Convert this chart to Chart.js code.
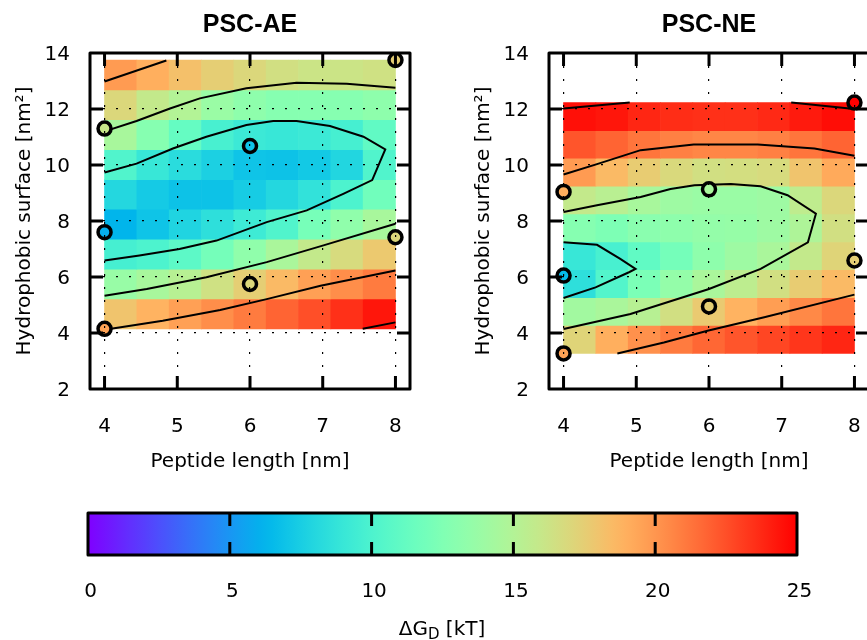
<!DOCTYPE html>
<html>
<head>
<meta charset="utf-8">
<script src="https://cdn.jsdelivr.net/npm/chart.js@4.4.0/dist/chart.umd.min.js"></script>
<style>
  html, body { margin: 0; padding: 0; background: #fff; width: 867px; height: 640px; overflow: hidden; }
  canvas { position: absolute; }
  #cbLabel { position: absolute; left: 342px; top: 616px; width: 200px; text-align: center;
             font: 20px "DejaVu Sans"; line-height: 24px; color: #000; }
  #cbLabel span { font-size: 15px; position: relative; top: 4px; }
</style>
</head>
<body>
<canvas id="ae" width="440" height="480" style="left:0;top:0"></canvas>
<canvas id="ne" width="440" height="480" style="left:459px;top:0"></canvas>
<canvas id="cb" width="867" height="160" style="left:0;top:480px"></canvas>
<div id="cbLabel">ΔG<span>D</span> [kT]</div>
<script>
// cell edges of the free-energy maps
const lengthEdges = [4, 4.444, 4.889, 5.333, 5.778, 6.222, 6.667, 7.111, 7.556, 8];
const aeSurfaceEdges = [13.75, 12.68, 11.62, 10.55, 9.48, 8.42, 7.35, 6.28, 5.22, 4.15]; // top -> bottom
const neSurfaceEdges = [12.23, 11.23, 10.24, 9.24, 8.25, 7.25, 6.26, 5.26, 4.27, 3.27];

// ΔG_D [kT] per cell, rows top -> bottom, columns 4 -> 8 nm
const aeHeat = [
  [19.8, 19.0, 18.2, 17.5, 17.0, 16.5, 16.2, 16.2, 16.4],
  [17.0, 15.8, 15.0, 13.8, 13.2, 12.8, 12.8, 12.8, 13.2],
  [14.5, 12.8, 11.2, 9.8, 9.2, 9.0, 9.2, 9.7, 11.0],
  [10.2, 9.0, 8.3, 7.6, 7.0, 6.9, 7.2, 7.9, 10.2],
  [8.0, 7.3, 6.9, 6.9, 7.4, 8.0, 8.7, 10.0, 11.8],
  [6.3, 7.0, 7.8, 8.5, 9.3, 10.2, 12.1, 13.3, 14.5],
  [9.7, 10.0, 10.8, 12.0, 13.3, 14.6, 15.8, 16.8, 17.8],
  [13.7, 14.5, 15.2, 16.4, 17.5, 18.5, 19.6, 20.3, 21.0],
  [18.0, 18.8, 19.6, 20.3, 21.0, 21.8, 22.5, 23.5, 24.3]
];
const neHeat = [
  [24.5, 24.3, 23.8, 23.6, 23.5, 23.5, 23.7, 24.2, 24.6],
  [22.3, 21.8, 21.2, 20.8, 20.6, 20.6, 20.8, 21.2, 21.8],
  [19.8, 18.5, 17.6, 16.9, 16.5, 16.6, 16.8, 18.0, 19.2],
  [15.8, 15.3, 14.5, 14.0, 13.8, 13.8, 14.0, 15.6, 17.0],
  [12.8, 12.4, 13.0, 13.2, 13.5, 13.6, 14.0, 14.8, 16.5],
  [9.0, 9.8, 11.0, 12.0, 13.2, 14.0, 14.6, 15.8, 17.2],
  [8.5, 10.3, 12.3, 13.5, 14.6, 15.5, 16.5, 17.6, 18.5],
  [14.2, 14.6, 15.2, 16.5, 17.7, 18.8, 19.7, 20.5, 21.2],
  [17.2, 19.0, 20.2, 21.0, 21.7, 22.3, 22.8, 23.3, 23.8]
];

// contour lines (peptide length, surface)
const aeContour20Top = [[4, 12.98], [4.85, 13.73]];
const aeContour15Top = [[4, 11.2], [4.44, 11.57], [4.9, 12.02], [5.31, 12.38], [5.95, 12.74], [6.64, 12.94], [7.33, 12.9], [8, 12.76]];
const aeContour10 = [[4, 9.73], [4.44, 10.05], [4.94, 10.59], [5.4, 11.01], [5.95, 11.43], [6.32, 11.57], [6.64, 11.57], [7.1, 11.39],
  [7.56, 11.01], [7.86, 10.56], [7.68, 9.46], [7.29, 8.98], [6.78, 8.38], [6.23, 7.96], [5.54, 7.3], [5.03, 7.0], [4.48, 6.77], [4, 6.59]];
const aeContour15Low = [[4, 5.33], [4.58, 5.57], [5.4, 5.99], [6.23, 6.53], [7.01, 7.13], [8, 7.9]];
const aeContour20Low = [[4, 4.12], [4.8, 4.44], [5.59, 4.82], [6.23, 5.21], [6.97, 5.69], [8, 6.23]];
const aeContour25 = [[7.55, 4.15], [8, 4.38]];

const neContour25Left = [[4, 12.02], [4.91, 12.23]];
const neContour25Right = [[7.13, 12.23], [8, 12.0]];
const neContour20Top = [[4, 9.66], [4.46, 10.03], [5.06, 10.53], [5.79, 10.73], [6.67, 10.73], [7.45, 10.59], [8, 10.33]];
const neContour15 = [[4, 8.32], [4.46, 8.56], [5.06, 8.86], [5.47, 9.14], [5.8, 9.28], [6.3, 9.32], [6.71, 9.24], [7.08, 8.92],
  [7.47, 8.26], [7.36, 7.24], [6.71, 6.29], [6, 5.57], [4.92, 4.68], [4, 4.14]];
const neContour10 = [[4, 7.24], [4.46, 7.15], [4.78, 6.65], [4.99, 6.29], [4.9, 6.17], [4.44, 5.63], [4, 5.25]];
const neContour20Low = [[4.74, 3.27], [5.38, 3.66], [5.98, 4.08], [6.76, 4.56], [8, 5.37]];

// simulated systems (circles)
const aeDotLength = [8, 4, 6, 4, 8, 6, 4];
const aeDotSurface = [13.75, 11.3, 10.68, 7.6, 7.42, 5.75, 4.15];
const aeDotEnergy = [17.5, 16, 7, 6, 17, 17, 19.5];
const neDotLength = [8, 4, 6, 4, 8, 6, 4];
const neDotSurface = [12.23, 9.04, 9.13, 6.05, 6.59, 4.95, 3.27];
const neDotEnergy = [25, 19, 14.5, 6.5, 17.5, 17.5, 19.5];

const lengthTicks = [4, 5, 6, 7, 8];
const colorbarMin = 0, colorbarMax = 25;

const tickFont = { family: 'DejaVu Sans', size: 20 };

function rainbow(v) {
  const t = Math.min(Math.max(v / colorbarMax, 0), 1);
  const r = Math.min(1, Math.abs(2 * t - 0.5));
  const g = Math.sin(Math.PI * t);
  const b = Math.cos(Math.PI * t / 2);
  return `rgb(${Math.round(r * 255)},${Math.round(g * 255)},${Math.round(b * 255)})`;
}

// thick frame with inward ticks, like the original plots
const framePlugin = {
  id: 'frame',
  afterDraw(chart, args, opts) {
    const { ctx, chartArea: a, scales } = chart;
    const len = 13;
    ctx.save();
    ctx.strokeStyle = '#000';
    ctx.lineWidth = 3;
    ctx.lineJoin = 'round';
    ctx.strokeRect(a.left, a.top, a.right - a.left, a.bottom - a.top);
    ctx.beginPath();
    scales.x.ticks.forEach(t => {
      const px = scales.x.getPixelForValue(t.value);
      if (px <= a.left + 1 || px >= a.right - 1) return;
      ctx.moveTo(px, a.top); ctx.lineTo(px, a.top + len);
      ctx.moveTo(px, a.bottom); ctx.lineTo(px, a.bottom - len);
    });
    if (opts.yTicks) {
      scales.y.ticks.forEach(t => {
        const py = scales.y.getPixelForValue(t.value);
        if (py <= a.top + 1 || py >= a.bottom - 1) return;
        ctx.moveTo(a.left, py); ctx.lineTo(a.left + len, py);
        ctx.moveTo(a.right, py); ctx.lineTo(a.right - len, py);
      });
    }
    ctx.stroke();
    ctx.restore();
  }
};

function makePanel(id, title, surfaceEdges, heat, contours, dotLength, dotSurface, dotEnergy) {
  const datasets = [];
  datasets.push({
    type: 'scatter',
    data: dotLength.map((x, i) => ({ x, y: dotSurface[i] })),
    pointRadius: 6.5,
    pointBorderWidth: 3.5,
    pointBorderColor: '#000',
    pointBackgroundColor: dotEnergy.map(rainbow),
    order: 0
  });
  contours.forEach(c => datasets.push({
    type: 'line',
    data: c.map(p => ({ x: p[0], y: p[1] })),
    borderColor: '#000',
    borderWidth: 2,
    pointRadius: 0,
    tension: 0,
    fill: false,
    order: 1
  }));
  heat.forEach((row, r) => datasets.push({
    type: 'bar',
    data: row.map((v, c) => ({
      x: (lengthEdges[c] + lengthEdges[c + 1]) / 2,
      y: [surfaceEdges[r + 1], surfaceEdges[r]]
    })),
    backgroundColor: row.map(rainbow),
    borderWidth: 0,
    grouped: false,
    barPercentage: 1,
    categoryPercentage: 1,
    order: 2
  }));

  return new Chart(document.getElementById(id), {
    type: 'bar',
    data: { datasets },
    options: {
      responsive: false,
      animation: false,
      events: [],
      layout: { padding: { left: 0, right: 30, top: 0, bottom: 0 } },
      plugins: {
        legend: { display: false },
        tooltip: { enabled: false },
        title: {
          display: true, text: title, fullSize: false, color: '#000',
          font: { family: 'Liberation Sans', size: 25, weight: 'bold' },
          padding: { top: 10, bottom: 13 }
        },
        frame: { yTicks: true }
      },
      scales: {
        x: {
          type: 'linear', min: 3.8, max: 8.2, offset: false,
          afterBuildTicks: s => { s.ticks = lengthTicks.map(v => ({ value: v })); },
          ticks: { font: tickFont, color: '#000', padding: 26, maxRotation: 0, autoSkip: false },
          grid: { color: '#000', lineWidth: 1.2, drawTicks: false, offset: false, z: 1 },
          border: { display: false, dash: [2, 11] },
          title: { display: true, text: 'Peptide length [nm]', font: tickFont, color: '#000', padding: { top: 0, bottom: 6 } },
          afterFit: s => { s.height = 91; }
        },
        y: {
          type: 'linear', min: 2, max: 14,
          ticks: { stepSize: 2, font: tickFont, color: '#000', padding: 20, labelOffset: 2 },
          grid: { color: '#000', lineWidth: 1.2, drawTicks: false, z: 1 },
          border: { display: false, dash: [2, 11] },
          title: { display: true, text: 'Hydrophobic surface [nm²]', font: tickFont, color: '#000', padding: { top: 13, bottom: 0 } },
          afterFit: s => { s.width = 90; }
        }
      }
    },
    plugins: [framePlugin]
  });
}

makePanel('ae', 'PSC-AE', aeSurfaceEdges, aeHeat,
  [aeContour20Top, aeContour15Top, aeContour10, aeContour15Low, aeContour20Low, aeContour25],
  aeDotLength, aeDotSurface, aeDotEnergy);
makePanel('ne', 'PSC-NE', neSurfaceEdges, neHeat,
  [neContour25Left, neContour25Right, neContour20Top, neContour15, neContour10, neContour20Low],
  neDotLength, neDotSurface, neDotEnergy);

// colour bar
function colorbarFill(chart) {
  const { ctx, chartArea, scales } = chart;
  if (!chartArea) return rainbow(12.5);
  const x0 = scales.x.getPixelForValue(colorbarMin);
  const x1 = scales.x.getPixelForValue(colorbarMax);
  const g = ctx.createLinearGradient(x0, 0, x1, 0);
  for (let v = colorbarMin; v <= colorbarMax; v += 0.5) g.addColorStop((v - colorbarMin) / (colorbarMax - colorbarMin), rainbow(v));
  return g;
}

new Chart(document.getElementById('cb'), {
  type: 'bar',
  data: {
    labels: [''],
    datasets: [{
      data: [[colorbarMin, colorbarMax]],
      backgroundColor: c => colorbarFill(c.chart),
      borderWidth: 0,
      barPercentage: 1,
      categoryPercentage: 1
    }]
  },
  options: {
    indexAxis: 'y',
    responsive: false,
    animation: false,
    events: [],
    layout: { padding: { left: 88, right: 70, top: 33, bottom: 0 } },
    plugins: { legend: { display: false }, tooltip: { enabled: false }, frame: { yTicks: false } },
    scales: {
      y: { display: false },
      x: {
        type: 'linear', min: colorbarMin, max: colorbarMax,
        ticks: { stepSize: 5, font: tickFont, color: '#000', padding: 25, labelOffset: 2.5, maxRotation: 0 },
        grid: { display: false, drawTicks: false },
        border: { display: false },
        afterFit: s => { s.height = 85; }
      }
    }
  },
  plugins: [framePlugin]
});
</script>
</body>
</html>
